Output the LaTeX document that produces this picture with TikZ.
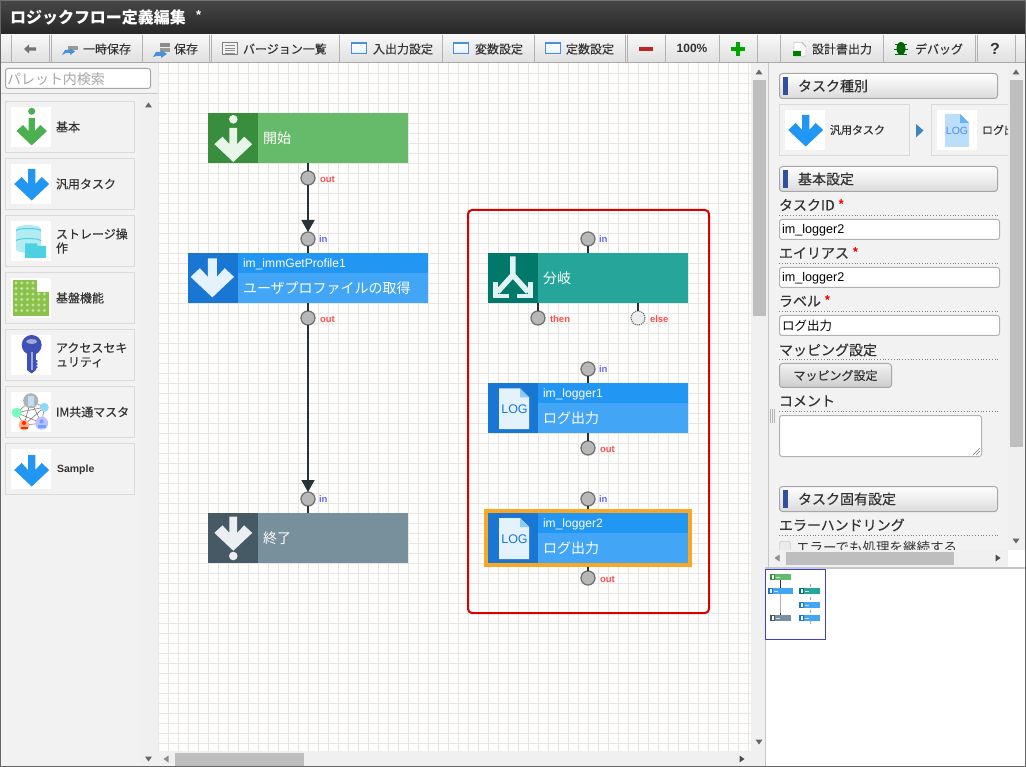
\documentclass[tikz,border=0pt]{standalone}
\usepackage{fontspec}
\setmainfont{Noto Sans CJK JP}
\newfontfamily\jpm[FakeBold=0.25]{Noto Sans CJK JP}
\newfontfamily\lat{Liberation Sans}
\usetikzlibrary{arrows.meta,calc}
\definecolor{ink}{HTML}{333333}
\definecolor{wire}{HTML}{263238}
\definecolor{gridc}{HTML}{E9E5E5}
\definecolor{canvasbg}{HTML}{FDFEFC}
\definecolor{panel}{HTML}{F2F2F2}
\definecolor{cardb}{HTML}{DADADA}
\definecolor{barb}{HTML}{2F4F9F}
\definecolor{thumb}{HTML}{BEBEBE}
\definecolor{track}{HTML}{F0F0F0}
\definecolor{tri}{HTML}{666666}
\definecolor{bluehead}{HTML}{1976D2}
\definecolor{blueband}{HTML}{2196F3}
\definecolor{bluebody}{HTML}{42A5F5}
\definecolor{bluelight}{HTML}{E3F2FD}
\definecolor{bluefold}{HTML}{90CAF9}
\definecolor{startbody}{HTML}{66BB6A}
\definecolor{starthead}{HTML}{388E3C}
\definecolor{startlight}{HTML}{E8F5E9}
\definecolor{endbody}{HTML}{78909C}
\definecolor{endhead}{HTML}{455A64}
\definecolor{endlight}{HTML}{ECEFF1}
\definecolor{brbody}{HTML}{26A69A}
\definecolor{brhead}{HTML}{00796B}
\definecolor{brlight}{HTML}{E0F2F1}
\definecolor{okgreen}{HTML}{4CAF50}
\definecolor{winblue}{HTML}{4A90D9}
\definecolor{stlight}{HTML}{B2EBF2}
\definecolor{stdark}{HTML}{4DD0E1}
\definecolor{fgreen}{HTML}{8BC34A}
\definecolor{fdot}{HTML}{C5E1A5}
\definecolor{keyb}{HTML}{3F51B5}
\definecolor{keyl}{HTML}{9FA8DA}
\definecolor{mapblue}{HTML}{4040D0}
\definecolor{kindpage}{HTML}{BBDEFB}
\definecolor{kindfold}{HTML}{64B5F6}
\definecolor{kindtext}{HTML}{4A90E2}
\definecolor{orangeb}{HTML}{F9A825}
\tikzset{
  x=1pt,y=-1pt,
  tx/.style={inner sep=0pt,outer sep=0pt,anchor=west,text=ink,font=\fontsize{12}{14}\selectfont\jpm,align=left},
  tool/.style={tx,font=\fontsize{12}{14}\selectfont\jpm},
  head/.style={tx,font=\fontsize{14}{16}\selectfont\jpm},
  flab/.style={tx,font=\fontsize{14}{16}\selectfont\jpm},
  val/.style={tx,text=black,font=\fontsize{12.6}{15}\selectfont\lat},
  wtitle/.style={tx,text=white,font=\fontsize{14}{16}\selectfont},
  wid/.style={tx,text=white,font=\fontsize{12.1}{15}\selectfont\lat},
  box/.style={inner sep=0pt,outer sep=0pt,minimum width=#1,minimum height=50pt,draw=none,rectangle},
  port/.style={circle,inner sep=0pt,outer sep=0pt,minimum size=14pt,draw=black!55,line width=1.3pt,fill=black!28},
  freeport/.style={circle,inner sep=0pt,outer sep=0pt,minimum size=14pt,draw=black!60,line width=1.1pt,densely dotted,fill=black!7},
  outl/.style={tx,text=red!70!white,font=\fontsize{9.5}{10}\selectfont\lat\bfseries},
  inl/.style={tx,text=blue!60!white,font=\fontsize{9.5}{10}\selectfont\lat\bfseries},
  stub/.style={draw=wire,line width=1.8pt},
  flow/.style={draw=wire,line width=1.8pt,-{Triangle[length=12pt,width=13pt]}},
  gridl/.style={draw=gridc,line width=1pt},
  sep/.style={draw=black!30,line width=1pt},
  dotl/.style={draw=black!50,line width=.8pt,dotted},
  card/.style={draw=cardb,line width=1pt,fill=panel},
  whitebox/.style={fill=white},
  phead/.style={draw=black!35,line width=1pt,rounded corners=3pt,top color=white,bottom color=black!14},
  inbox/.style={draw=black!30,line width=1pt,rounded corners=2.5pt,fill=white},
  thumbf/.style={fill=thumb},
  trif/.style={fill=tri},
}
\newcommand{\DownArrow}[4]{% cx, top, scale, colour
  \fill[#4,shift={(#1,#2)},scale=#3] (-3.6,0)--(3.6,0)--(3.6,15)--(10,8)--(17.5,15)--(0,31.5)--(-17.5,15)--(-10,8)--(-3.6,15)--cycle;}
\newcommand{\LogPage}[6]{% x0,y0,x1,y1,page,fold
  \fill[#5] (#1,#2)--(#3-9,#2)--(#3,#2+9)--(#3,#4)--(#1,#4)--cycle;
  \fill[#6] (#3-9,#2)--(#3,#2+9)--(#3-9,#2+9)--cycle;}
\newcommand{\TriUp}[2]{\fill[trif] (#1-3.5,#2+2.5)--(#1+3.5,#2+2.5)--(#1,#2-2.5)--cycle;}
\newcommand{\TriDown}[2]{\fill[trif] (#1-3.5,#2-2.5)--(#1+3.5,#2-2.5)--(#1,#2+2.5)--cycle;}
\newcommand{\TriLeft}[2]{\fill[black!45] (#1+2.5,#2-3.5)--(#1+2.5,#2+3.5)--(#1-2.5,#2)--cycle;}
\newcommand{\TriRight}[2]{\fill[black!70] (#1-2.5,#2-3.5)--(#1-2.5,#2+3.5)--(#1+2.5,#2)--cycle;}
\newcommand{\WinIcon}[1]{\shade[top color=white,bottom color=bluelight] (#1,42.5) rectangle (#1+15,54);\draw[winblue,line width=1pt] (#1,42.5) rectangle (#1+15,54);\fill[winblue] (#1,42.5) rectangle (#1+15,44.5);}
\begin{document}
\begin{tikzpicture}
\useasboundingbox (0,0) rectangle (1026,767);
\fill[white] (0,0) rectangle (1026,767);
% title bar and toolbar
\shade[top color=black!72,bottom color=black!85] (0,0) rectangle (1026,35);
\fill[black!55] (0,0) rectangle (1026,1);
\node[tx,text=white,font=\fontsize{16}{18}\selectfont\bfseries] (title) at (10,17) {ロジックフロー定義編集};
\node[tx,text=white,font=\fontsize{13}{15}\selectfont\lat\bfseries] (titlestar) at (196,15) {*};
\shade[top color=black!3,bottom color=black!12] (0,35) rectangle (1026,62);
\fill[black!33] (0,62) rectangle (1026,63.5);
\foreach \x in {11.5,49.5,51.5,142.5,209.5,211.5,339.5,442.5,534.5,625.5,627.5,665.5,719.5,757.5,780.5,883.5,975.5,977.5,1015.5} \draw[sep] (\x,35) -- (\x,62);
% panels
\fill[panel] (1,63.5) rectangle (158,767);
\fill[track] (140,95) rectangle (158,767);
\fill[track] (751,63.5) rectangle (768,751);
\fill[track] (158,751) rectangle (768,767);
\fill[panel] (768,63.5) rectangle (1026,567);
\fill[track] (1008,63.5) rectangle (1026,550);
\fill[track] (769,550) rectangle (1008,567);
\fill[white] (1008,550) rectangle (1026,567);
% canvas
\fill[canvasbg] (158,63.5) rectangle (751,751);
\foreach \x in {158.5,168.5,...,750} \draw[gridl] (\x,63.5) -- (\x,751);
\foreach \y in {73.5,83.5,...,750} \draw[gridl] (158,\y) -- (751,\y);
% scrollbars
\fill[thumbf] (753,80) rectangle (766,316);
\fill[thumbf] (175,753) rectangle (304,766);
\fill[thumbf] (1010,80) rectangle (1023,447);
\fill[thumbf] (786,552) rectangle (954,565);
\TriUp{759}{72}\TriDown{759}{742}\TriUp{148.5}{105}\TriDown{148.5}{759}
\TriUp{1016}{72}\TriDown{1016}{541}\TriLeft{777}{558}\TriRight{998}{558}\TriLeft{166}{759}\TriRight{742}{759}
% toolbar icons
\fill[black!55] (24,49)--(29,44.5)--(29,47.3)--(36,47.3)--(36,50.7)--(29,50.7)--(29,53.5)--cycle;
\fill[black!40] (68,46) rectangle (78,50);
\fill[winblue] (62,55)--(65,50)--(70,50)--(70,48)--(75,51.5)--(70,55)--(70,53)--(66,53)--cycle;
\fill[black!45] (160,43) rectangle (170,47);\fill[black!40] (160,48) rectangle (170,52);
\fill[winblue] (153,57)--(156,52)--(161,52)--(161,50)--(167,54)--(161,58)--(161,56)--(157,56)--cycle;
\draw[black!50,fill=black!5] (222.5,42.5) rectangle (237.5,54.5);
\foreach \y in {45.5,48,50.5,53} \draw[black!45,line width=.8pt] (225,\y) -- (235,\y);
\WinIcon{351.5}\WinIcon{453}\WinIcon{545.5}
\fill[red!70!black!85!white] (639,47.5) rectangle (653,51.5);
\fill[green!65!black] (736,42) rectangle (740,56);\fill[green!65!black] (731,47) rectangle (745,51);
\fill[white,draw=black!45] (794,42.5)--(802,42.5)--(806,46.5)--(806,56)--(794,56)--cycle;
\fill[green!50!black] (793,51) rectangle (801,56);
\fill[green!40!black] (901,48.5) ellipse [x radius=4.5,y radius=6.5];
\draw[green!40!black,line width=.8pt] (895,44)--(907,44) (894,49)--(908,49) (895,54)--(907,54);
% toolbar labels
\node[tool] (t1) at (83,49) {一時保存};
\node[tool] (t2) at (174,49) {保存};
\node[tool] (t3) at (243,49) {バージョン一覧};
\node[tool] (t4) at (373,49) {入出力設定};
\node[tool] (t5) at (475,49) {変数設定};
\node[tool] (t6) at (566,49) {定数設定};
\node[tx,anchor=center,font=\fontsize{12}{14}\selectfont\lat\bfseries] (t7) at (692,48) {100\%};
\node[tool] (t8) at (812,49) {設計書出力};
\node[tool] (t9) at (915,49) {デバッグ};
\node[tx,anchor=center,font=\fontsize{16}{18}\selectfont\lat\bfseries] (t10) at (995,49) {?};
% palette
\draw[inbox,draw=black!35] (5.5,68.5) rectangle (150.5,88.5);
\node[tx,text=black!35,font=\fontsize{14}{16}\selectfont] (search) at (7,79) {パレット内検索};
\fill[black!22] (1,93.5) rectangle (158,94.5);
\foreach \y in {101,158,215,272,329,386,443} {
  \draw[card] (5.5,\y+.5) rectangle (134.5,\y+51.5);
  \fill[whitebox] (11,\y+6) rectangle (51,\y+46);
}
\fill[okgreen] (31.7,111.3) circle [radius=3.5];
\DownArrow{31.7}{118}{.87}{okgreen}
\DownArrow{31.7}{169}{1}{blueband}
% storage icon
\fill[stlight] (16,229) rectangle (41,249);
\fill[stlight] (28.5,229) ellipse [x radius=12.5,y radius=4];
\fill[stlight] (28.5,249) ellipse [x radius=12.5,y radius=4];
\draw[stdark,line width=1pt] (16,231)  arc[start angle=180,end angle=360,x radius=12.5,y radius=2.5];
\draw[stdark,line width=1pt] (16,241)  arc[start angle=180,end angle=360,x radius=12.5,y radius=2.5];
\fill[stdark] (25,243.5)--(37,243.5)--(37,246)--(46,246)--(46,258)--(25,258)--cycle;
% foundation icon
\fill[fgreen] (13.3,280) rectangle (36.7,292);
\fill[fgreen] (13.3,292) rectangle (49,316);
\foreach \y in {283,288.5,294,299.5,305,310.5}{\foreach \x in {16,21.7,27.4,33}{\fill[fdot] (\x,\y) circle [radius=1.6];}}
\foreach \y in {294,299.5,305,310.5}{\foreach \x in {38.7,44.4}{\fill[fdot] (\x,\y) circle [radius=1.6];}}
% key icon
\fill[keyb] (31.7,345) circle [radius=10];
\fill[keyb] (27,350) rectangle (36,370);
\fill[keyb] (27,370)--(36,370)--(31.7,373.5)--cycle;
\fill[keyb] (36,360)--(38,361)--(36,363)--(38,364)--(36,366)--(38,367)--(36,369)--cycle;
\fill[keyl] (31.7,341.5) ellipse [x radius=5.5,y radius=2.5];
\fill[keyl] (30.8,352) rectangle (32.6,370);
% master icon
\draw[black!50,line width=.6pt] (30.7,400.7)--(16.7,412.7)--(24,425)--(30.7,400.7)--(41.7,423.3)--(24,425)
  (44.3,407.3)--(16.7,412.7)--(41.7,423.3)--(44.3,407.3)--(30.7,400.7) (44.3,407.3)--(24,425);
\fill[black!30] (30.7,400.7) circle [radius=7.5];
\fill[bluefold!60!white] (27.5,396) rectangle (33.5,406);
\fill[cyan!45] (44.3,407.3) circle [radius=4.5];
\fill[green!50!cyan!55] (16.7,412.7) circle [radius=5];
\fill[red!35!orange!45] (24,425) circle [radius=5.5];
\fill[red!70!orange] (24,423) circle [radius=2];\fill[red!70!orange] (20.5,427) rectangle (27.5,429);
\fill[blue!25] (41.7,423.3) circle [radius=6.5];
\fill[blue!60!cyan!60] (41.7,421.5) circle [radius=2];\fill[blue!60!cyan!60] (38,425) rectangle (45.5,427.5);
\DownArrow{31.7}{455}{1}{blueband}
\node[tx] (p1) at (56,127) {基本};
\node[tx] (p2) at (56,184) {汎用タスク};
\node[tx] (p3) at (56,241) {ストレージ操\\作};
\node[tx] (p4) at (56,298) {基盤機能};
\node[tx] (p5) at (56,355) {アクセスセキ\\ュリティ};
\node[tx] (p6) at (56,412) {IM共通マスタ};
\node[tx,font=\fontsize{10.5}{12}\selectfont\lat\bfseries] (p7) at (57,469.5) {Sample};
% red frame
\draw[red!85!black,line width=2pt,rounded corners=4pt] (468,210) rectangle (709,613);
% flow nodes
\node[box=200pt,fill=startbody] (start) at (308,138) {};
\fill[starthead] (208,113) rectangle (258,163);
\fill[startlight] (233.3,119.3) circle [radius=4.3];
\DownArrow{233.3}{128}{1.08}{startlight}
\node[wtitle] (startl) at (263,138) {開始};

\node[box=240pt,fill=bluebody] (prof) at (308,278) {};
\fill[blueband] (238,253) rectangle (428,273);
\fill[bluehead] (188,253) rectangle (238,303);
\DownArrow{212.3}{258.3}{1.24}{bluelight}
\node[wid] (profid) at (243,264) {im\_immGetProfile1};
\node[wtitle] (profl) at (243,288) {ユーザプロファイルの取得};

\node[box=200pt,fill=endbody] (endn) at (308,538) {};
\fill[endhead] (208,513) rectangle (258,563);
\DownArrow{233.3}{516.7}{1.08}{endlight}
\fill[endlight] (233.3,556) circle [radius=4.3];
\node[wtitle] (endl) at (263,538) {終了};

\node[box=200pt,fill=brbody] (branch) at (588,278) {};
\fill[brhead] (488,253) rectangle (538,303);
\draw[brlight,line width=5.4pt] (512.8,256.5)--(512.8,277) (512.8,275)--(497.5,292) (512.8,275)--(528.1,292);
\draw[brlight,line width=4.6pt,miter limit=3] (495.5,282)--(495.5,296)--(509,296);
\draw[brlight,line width=4.6pt,miter limit=3] (530.5,282)--(530.5,296)--(517,296);
\node[wtitle] (branchl) at (543,278) {分岐};

\node[box=200pt,fill=bluebody] (log1) at (588,408) {};
\fill[blueband] (538,383) rectangle (688,403);
\fill[bluehead] (488,383) rectangle (538,433);
\LogPage{499}{388.3}{529}{429}{bluelight}{bluefold}
\node[tx,anchor=center,text=bluehead,font=\fontsize{12.5}{14}\selectfont\lat] (log1t) at (514.5,409.5) {LOG};
\node[wid] (log1id) at (543,394) {im\_logger1};
\node[wtitle] (log1l) at (543,418) {ログ出力};

\node[box=200pt,fill=bluebody] (log2) at (588,538) {};
\fill[blueband] (538,513) rectangle (688,533);
\fill[bluehead] (488,513) rectangle (538,563);
\LogPage{499}{518}{529}{559}{bluelight}{bluefold}
\node[tx,anchor=center,text=bluehead,font=\fontsize{12.5}{14}\selectfont\lat] (log2t) at (514.5,539.5) {LOG};
\node[wid] (log2id) at (543,524) {im\_logger2};
\node[wtitle] (log2l) at (543,548) {ログ出力};
\draw[orangeb,line width=4pt] (486,511) rectangle (690,565);
% ports
\node[port] (startout) at (308,178) {};
\node[port] (profin) at (308,239) {};
\node[port] (profout) at (308,318) {};
\node[port] (endin) at (308,499) {};
\node[port] (brin) at (588,239) {};
\node[port] (brthen) at (538,318) {};
\node[freeport] (brelse) at (638,318) {};
\node[port] (l1in) at (588,369) {};
\node[port] (l1out) at (588,448) {};
\node[port] (l2in) at (588,499) {};
\node[port] (l2out) at (588,578) {};
% connectors
\draw[stub] (start.south) -- (startout);
\draw[stub] (profin) -- (prof.north);
\draw[stub] (prof.south) -- (profout);
\draw[stub] (endin) -- (endn.north);
\draw[stub] (brin) -- (branch.north);
\draw[stub] (brthen |- branch.south) -- (brthen);
\draw[stub] (brelse |- branch.south) -- (brelse);
\draw[stub] (l1in) -- (log1.north);
\draw[stub] (log1.south) -- (l1out);
\draw[stub] (l2in) -- (log2.north |- 0,509);
\draw[stub] (log2.south |- 0,567) -- (l2out);
\draw[flow] (startout) -- (profin);
\draw[flow] (profout) -- (endin);
% port labels
\node[outl] (a1) at (320,179) {out};
\node[inl] (a2) at (319,239) {in};
\node[outl] (a3) at (320,319) {out};
\node[inl] (a4) at (319,499) {in};
\node[inl] (a5) at (599,239) {in};
\node[outl] (a6) at (550,319) {then};
\node[outl] (a7) at (650,319) {else};
\node[inl] (a8) at (599,369) {in};
\node[outl] (a9) at (600,449) {out};
\node[inl] (a10) at (599,499) {in};
\node[outl] (a11) at (600,579) {out};
% right panel
\draw[black!22,line width=1pt] (768.5,63.5) -- (768.5,567);
\foreach \x in {770.5,772.5,774.5} \draw[black!30,line width=.7pt] (\x,409) -- (\x,423);
\foreach \y/\lab/\nm in {73.5/タスク種別/h1,166.5/基本設定/h2,486.5/タスク固有設定/h3} {
  \draw[phead] (779.5,\y) rectangle (997.5,\y+25);
  \fill[barb] (783,\y+3.5) rectangle (788,\y+21.5);
  \node[head] (\nm) at (798,\y+12.5) {\lab};
}
\draw[cardb,line width=1pt] (779.5,104.5) rectangle (909,155.5);
\fill[whitebox] (785,110) rectangle (825,150);
\DownArrow{805.7}{115}{1}{blueband}
\node[tx,font=\fontsize{11}{13}\selectfont\jpm] (k1) at (830,130) {汎用タスク};
\fill[blueband!75!black!85!white] (916,124)--(923.5,130.5)--(916,137.5)--cycle;
\draw[cardb,line width=1pt] (1008,104.5) -- (931.5,104.5) -- (931.5,155.5) -- (1008,155.5);
\fill[whitebox] (937,110) rectangle (977,150);
\LogPage{945}{114}{969}{147}{kindpage}{kindfold}
\node[tx,anchor=center,text=kindtext,font=\fontsize{10.5}{12}\selectfont\lat] (k2t) at (957,131) {LOG};
\begin{scope}
\clip (978,110) rectangle (1008,150);
\node[tx,font=\fontsize{11}{13}\selectfont\jpm] (k2) at (982,130) {ログ出力};
\end{scope}
% form
\node[flab] (f1) at (779,205) {タスクID \textcolor{red}{*}};
\draw[dotl] (779,215.5) -- (998,215.5);
\draw[inbox] (779.5,219.5) rectangle (999.5,239.5);
\node[val] (v1) at (782,230.5) {im\_logger2};
\node[flab] (f2) at (779,253) {エイリアス \textcolor{red}{*}};
\draw[dotl] (779,263.5) -- (998,263.5);
\draw[inbox] (779.5,267.5) rectangle (999.5,287.5);
\node[val] (v2) at (782,278.5) {im\_logger2};
\node[flab] (f3) at (779,301) {ラベル \textcolor{red}{*}};
\draw[dotl] (779,311.5) -- (998,311.5);
\draw[inbox] (779.5,315.5) rectangle (999.5,335.5);
\node[tx,text=black,font=\fontsize{12.5}{15}\selectfont] (v3) at (782,325.5) {ログ出力};
\node[flab] (f4) at (779,350) {マッピング設定};
\draw[dotl] (779,359.5) -- (998,359.5);
\draw[draw=black!35,line width=1pt,rounded corners=3pt,top color=black!5,bottom color=black!20] (779.5,363.5) rectangle (891.5,387.5);
\node[tx,anchor=center,font=\fontsize{12}{14}\selectfont\jpm] (v4) at (835.5,375.5) {マッピング設定};
\node[flab] (f5) at (779,401) {コメント};
\draw[dotl] (779,411.5) -- (998,411.5);
\draw[inbox] (779.5,415.5) rectangle (981.5,456.5);
\draw[black!55,line width=.6pt] (973,455)--(980,448) (976,455)--(980,451);
\node[flab] (f6) at (779,525) {エラーハンドリング};
\draw[dotl] (779,535.5) -- (998,535.5);
\begin{scope}
\clip (769,537) rectangle (1008,549.5);
\draw[draw=black!30,fill=black!8,rounded corners=2pt] (779.5,541.5) rectangle (790.5,553);
\node[flab,font=\fontsize{13.5}{16}\selectfont] (f7) at (796,547) {エラーでも処理を継続する};
\end{scope}
\fill[black!22] (765,567) rectangle (1026,568.5);
% minimap
\fill[white] (765,568.5) rectangle (1026,767);
\draw[black!22,line width=1pt] (765,568) -- (765,767);
\draw[black!30,line width=.9pt] (780.5,579) -- (780.5,615);
\fill[wire] (780,579.5) rectangle (781,588);
\fill[wire] (780,612.5) rectangle (781,615);
\foreach \y in {584,597,609.5} \fill[black!35] (809.5,\y) rectangle (810.5,\y+3);
\foreach \y in {597,621} \fill[black!35] (809.5,\y) rectangle (810.5,\y+3);
\foreach \bx/\by/\ex/\ey/\bc/\hc in {770/574/791/579.5/startbody/starthead,768/588/793/594/bluebody/bluehead,770/615/791/621/endbody/endhead,799/588/820/594/brbody/brhead,799/602/820/608/bluebody/bluehead,799/615/820/621/bluebody/bluehead} {
  \fill[\bc] (\bx,\by) rectangle (\ex,\ey);
  \fill[\hc] (\bx,\by) rectangle (\bx+5,\ey);
  \fill[white] (\bx+1.5,\by+1.2) rectangle (\bx+3.5,\ey-1);
  \fill[white!85!black] (\bx+6,\by+2.5) rectangle (\bx+10,\by+3.3);
}
\draw[mapblue,line width=1pt] (765.5,569.5) rectangle (825.5,639.5);
% outer edge
\draw[black!60,line width=1pt] (.5,0) -- (.5,766.5) -- (1025.5,766.5) -- (1025.5,0);
\end{tikzpicture}
\end{document}
